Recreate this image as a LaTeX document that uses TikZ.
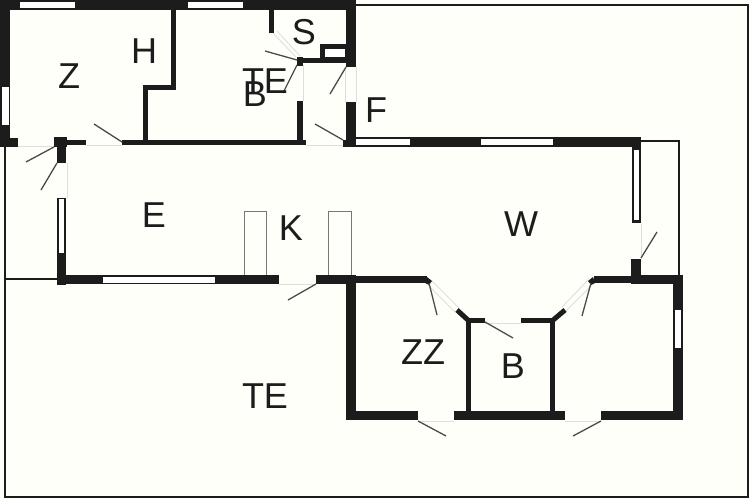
\documentclass[tikz,border=0pt]{standalone}
\usepackage{fontspec}
\setmainfont{Liberation Sans}
\definecolor{paper}{HTML}{FFFFFA}
\definecolor{wallc}{HTML}{1C1C1C}
\definecolor{swingc}{HTML}{4A4A4A}
\definecolor{glassc}{HTML}{DEDEDA}
\definecolor{fitc}{HTML}{777777}
\tikzset{
  wall/.style={fill=wallc,draw=none},
  pane/.style={fill=white,draw=none},
  thinwall/.style={draw=wallc,line width=2pt},
  plot/.style={draw=wallc,line width=1.8pt},
  swing/.style={draw=swingc,line width=1.3pt},
  glass/.style={draw=glassc,line width=0.9pt},
  fitting/.style={draw=fitc,line width=1pt,fill=paper},
  diag/.style={draw=wallc,line width=5pt},
  room/.style={text=wallc,inner sep=0pt,font=\fontsize{36}{36}\selectfont}
}
\begin{document}
\begin{tikzpicture}[x=1pt,y=-1pt]
\fill[paper] (0,0) rectangle (750,500);
\useasboundingbox (0,0) rectangle (750,500);
% plot boundary
\draw[plot] (356,5) -- (748,5) -- (748,497) -- (5,497) -- (5,146);
\draw[thinwall] (5,279) -- (57,279);
\draw[thinwall] (640,141) -- (679,141) -- (679,276);
% glass / door openings
\draw[glass] (18,146.5) -- (54,146.5);
\draw[glass] (86,145.5) -- (122,145.5);
\draw[glass] (306,145.5) -- (345,145.5);
\draw[glass] (67,163) -- (67,198);
\draw[glass] (279,284.5) -- (316,284.5);
\draw[glass] (303,65) -- (303,101);
\draw[glass] (345.5,67) -- (345.5,102);
\draw[glass] (356,67) -- (356,102);
\draw[glass] (641,224) -- (641,259);
\draw[glass] (485,323) -- (521,323);
\draw[glass] (418,421) -- (454,421);
\draw[glass] (565,421) -- (601,421);
\draw[glass] (272,32) -- (296,57);
\draw[glass] (277,31) -- (300,56);
\draw[glass] (432,281) -- (459,308);
\draw[glass] (428,285) -- (455,312);
\draw[glass] (588,280) -- (562,307);
\draw[glass] (592,285) -- (566,311);
% fittings
\draw[fitting] (244,211) rectangle (266,276);
\draw[fitting] (328,211) rectangle (351,276);
% walls, upper part
\fill[wall] (0,0) rectangle (356,10);
\fill[wall] (0,0) rectangle (10,147);
\fill[wall] (0,138) rectangle (18,147);
\fill[wall] (171,10) rectangle (176,90);
\fill[wall] (143,85) rectangle (176,90);
\fill[wall] (143,85) rectangle (148,141);
\fill[wall] (122,140) rectangle (306,145);
\fill[wall] (297,101) rectangle (303,141);
\fill[wall] (269,10) rectangle (274,33);
\fill[wall] (297,58) rectangle (350,63);
\fill[wall] (297,57) rectangle (303,66);
\fill[wall] (320,44) rectangle (347,59);
\fill[wall] (346,0) rectangle (356,67);
\fill[wall] (346,102) rectangle (356,147);
\fill[wall] (343,140) rectangle (350,147);
% walls, living area
\fill[wall] (54,137) rectangle (67,147);
\fill[wall] (57,147) rectangle (66,163);
\fill[wall] (67,140) rectangle (86,145);
\fill[wall] (57,198) rectangle (66,285);
\fill[wall] (57,275) rectangle (279,284);
\fill[wall] (316,275) rectangle (356,284);
\fill[wall] (356,137) rectangle (641,147);
\fill[wall] (632,147) rectangle (641,223);
\fill[wall] (631,259) rectangle (641,284);
\fill[wall] (594,276) rectangle (641,283);
\fill[wall] (632,275) rectangle (683,284);
\fill[wall] (673,275) rectangle (683,420);
\fill[wall] (356,276) rectangle (427,283);
\fill[wall] (427,277) -- (432,281) -- (429,285) -- (425,283) -- cycle;
\fill[wall] (593,277) -- (588,281) -- (591,285) -- (595,283) -- cycle;
% walls, lower part
\fill[wall] (346,284) rectangle (356,420);
\fill[wall] (346,411) rectangle (418,420);
\fill[wall] (454,411) rectangle (565,420);
\fill[wall] (601,411) rectangle (683,420);
\fill[wall] (466,318) rectangle (471,412);
\fill[wall] (550,318) rectangle (555,412);
\fill[wall] (466,318) rectangle (485,323);
\fill[wall] (521,318) rectangle (555,323);
\draw[diag] (457,310) -- (469,321);
\draw[diag] (565,310) -- (552,321);
% window panes
\fill[pane] (20,2) rectangle (75,8);
\fill[pane] (188,2) rectangle (243,8);
\fill[pane] (2,87) rectangle (9,125);
\fill[pane] (325,49) rectangle (345,57);
\fill[pane] (356,139) rectangle (410,145);
\fill[pane] (481,139) rectangle (553,145);
\fill[pane] (634,150) rectangle (639,220);
\fill[pane] (59,199) rectangle (64,253);
\fill[pane] (103,277) rectangle (215,283);
\fill[pane] (675,310) rectangle (681,348);
% door swings
\draw[swing] (54,147) -- (26,162);
\draw[swing] (57,163) -- (41,190);
\draw[swing] (122,142) -- (94,124);
\draw[swing] (343,140) -- (315,124);
\draw[swing] (346,67) -- (330,94);
\draw[swing] (297,60) -- (265,51);
\draw[swing] (297,65) -- (283,93);
\draw[swing] (316,284) -- (288,300);
\draw[swing] (429,283) -- (437,315);
\draw[swing] (591,283) -- (582,316);
\draw[swing] (485,322) -- (513,338);
\draw[swing] (641,258) -- (657,232);
\draw[swing] (418,421) -- (446,436);
\draw[swing] (601,421) -- (573,436);
% labels
\node[room] (lz) at (69,76) {Z};
\node[room] (lh) at (144,51) {H};
\node[room] (lte) at (265,81) {TE};
\node[room] (lb) at (255,94) {B};
\node[room] (ls) at (304,32) {S};
\node[room] (lf) at (376,110) {F};
\node[room] (le) at (154,215) {E};
\node[room] (lk) at (291,228) {K};
\node[room] (lw) at (521,224) {W};
\node[room] (lzz) at (423,352) {ZZ};
\node[room] (lb2) at (513,366) {B};
\node[room] (lte2) at (265,396) {TE};
\end{tikzpicture}
\end{document}
